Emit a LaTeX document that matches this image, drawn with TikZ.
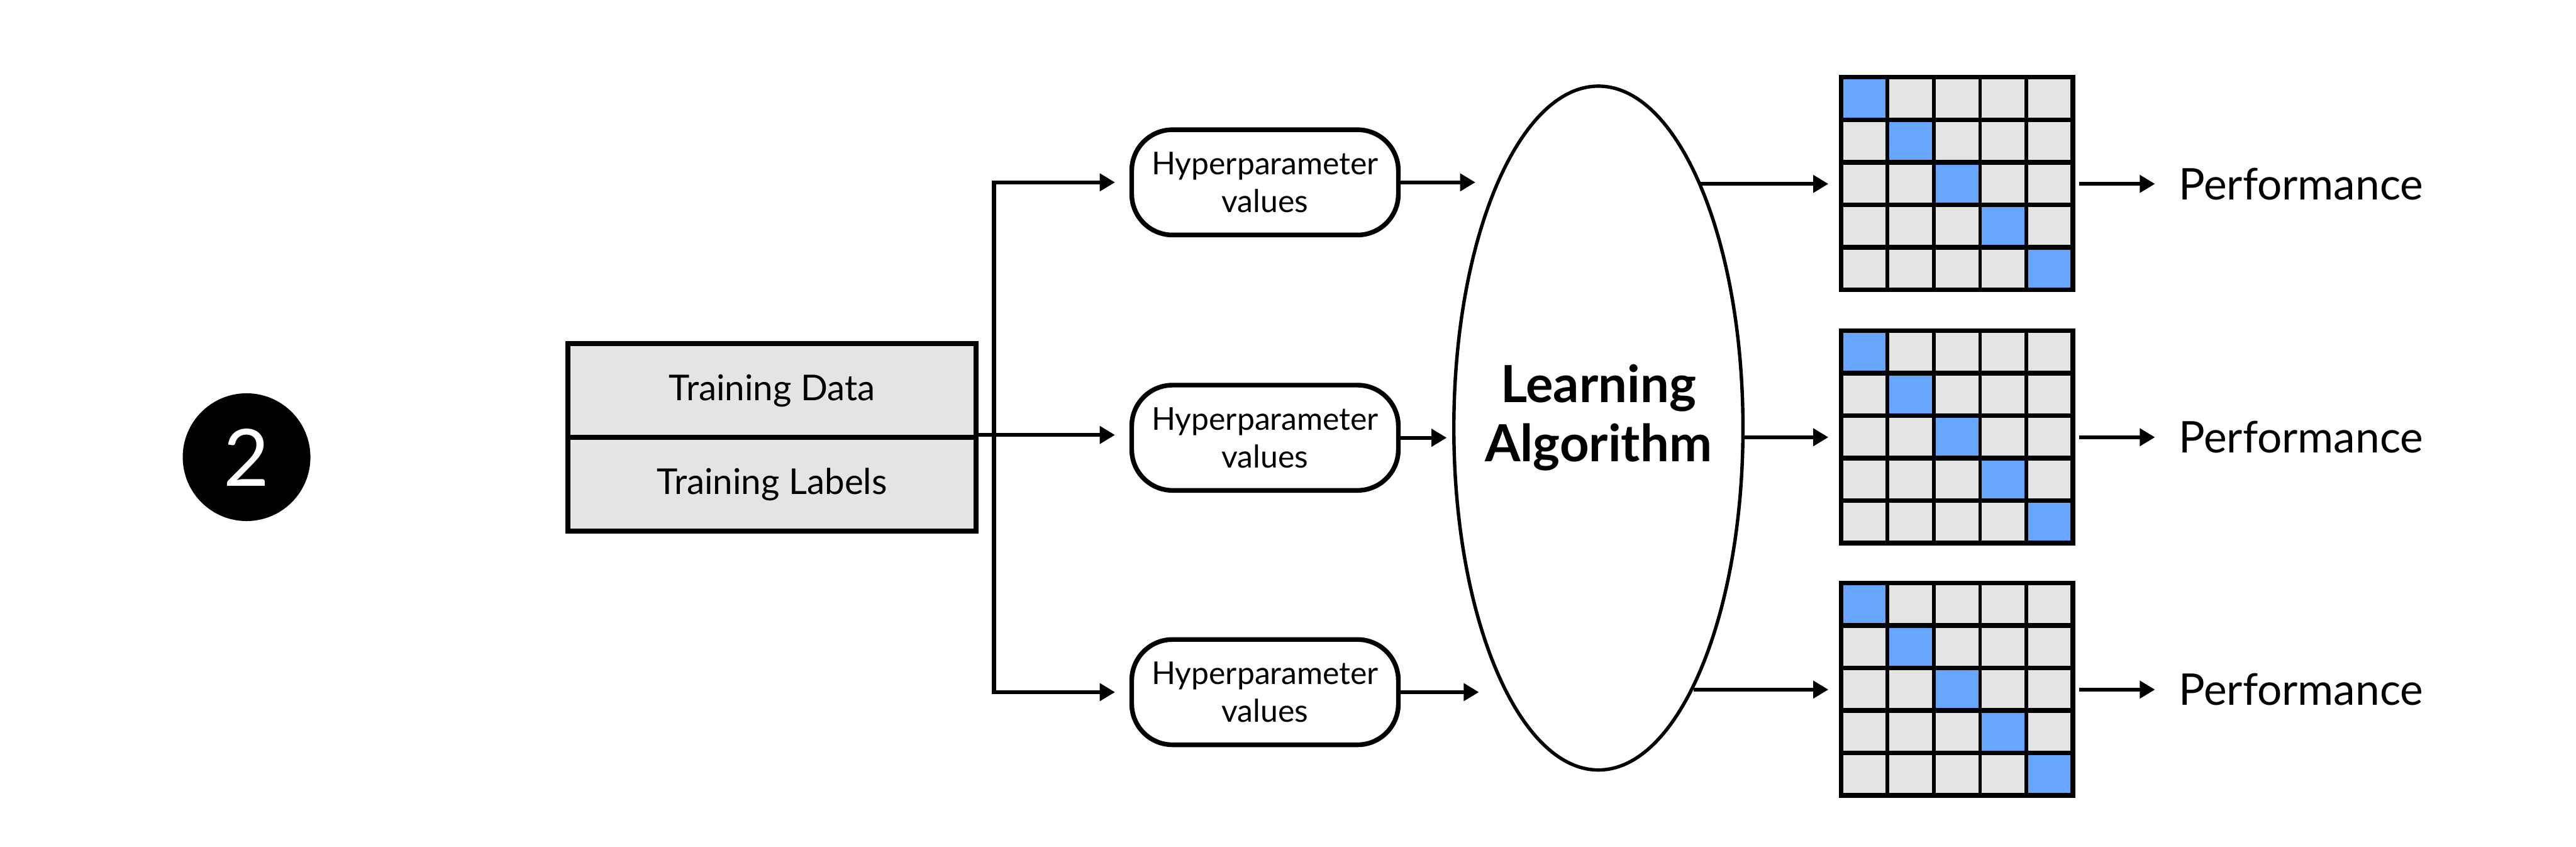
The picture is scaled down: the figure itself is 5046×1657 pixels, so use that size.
\documentclass[tikz,border=0pt]{standalone}
\usepackage{fontspec}
\setmainfont{Lato}
\usetikzlibrary{shapes.geometric,arrows.meta}
\definecolor{cellgray}{HTML}{E4E4E4}
\definecolor{cellblue}{HTML}{66A6FF}
\begin{document}
\begin{tikzpicture}[x=0.01cm,y=-0.01cm,
  arr/.style={line width=2.2pt,-{Triangle[length=8.5pt,width=9.5pt]}},
  ln/.style={line width=2.2pt},
  tbox/.style={draw,line width=2.8pt,fill=cellgray,minimum width=7.99cm,minimum height=1.835cm,font=\fontsize{19.8}{23}\selectfont,inner sep=0pt},
  hbox/.style={draw,line width=2.6pt,rounded corners=0.8cm,minimum width=5.22cm,minimum height=2.06cm,align=center,font=\fontsize{17.5}{21}\selectfont,inner sep=0pt},
  perf/.style={anchor=west,font=\fontsize{24.3}{30}\selectfont,inner sep=0pt},
  gridbox/.style={fill=cellgray,minimum width=4.54cm,minimum height=4.16cm,inner sep=0pt}
]
\useasboundingbox (0,0) rectangle (5046,1657);

% step number
\node[circle,fill=black,minimum size=2.5cm,inner sep=0pt,text=white,font=\fontsize{44}{44}\selectfont] (num) at (483,895) {2};

% training data box
\node[tbox] (td) at (1512.5,764.75) {Training Data};
\node[tbox] (tl) at (1512.5,948.25) {Training Labels};

% hyperparameter boxes
\node[hbox] (h1) at (2478,357) {Hyperparameter\\values};
\node[hbox] (h2) at (2478,857) {Hyperparameter\\values};
\node[hbox] (h3) at (2478,1355) {Hyperparameter\\values};

% learning algorithm
\node[ellipse,draw,line width=1.9pt,minimum width=5.66cm,minimum height=13.38cm,inner sep=0pt] (la) at (3131,838) {};
\node[align=center,inner sep=0pt,font=\bfseries\fontsize{28.5}{33}\selectfont] (lat) at (3131,818) {Learning\\Algorithm};

% split connectors
\coordinate (jt) at (1947,357);
\coordinate (jb) at (1947,1355);
\draw[ln,line cap=rect] (jt) -- (jb);
\draw[arr,shorten >=8pt] (jt) -- (h1.west);
\draw[arr,shorten >=8pt] (tl.north east) -- (h2.west |- tl.north east);
\draw[arr,shorten >=8pt] (jb) -- (h3.west);

% hyper -> algorithm
\coordinate (a1) at (2890,357);
\coordinate (a2) at (2834,857);
\coordinate (a3) at (2897,1355);
\draw[arr] (h1.east) -- (a1);
\draw[arr] (h2.east) -- (a2);
\draw[arr] (h3.east) -- (a3);

% confusion grids
\foreach \g/\yy in {g1/360,g2/856,g3/1350}{
  \node[gridbox] (\g) at (3834,\yy) {};
  \begin{scope}[shift={(\g.north west)}]
    \foreach \i in {0,...,4}{
      \fill[cellblue] (\i*90.8,\i*83.2) rectangle ++(90.8,83.2);
    }
    \foreach \i in {1,...,4}{
      \draw[line width=2pt] (\i*90.8,0) -- (\i*90.8,416);
      \draw[line width=2.6pt] (0,\i*83.2) -- (454,\i*83.2);
    }
    \draw[line width=2.6pt] (0,0) rectangle (454,416);
  \end{scope}
}

% algorithm -> grids
\coordinate (e1) at (3329,360);
\coordinate (e3) at (3318,1350);
\draw[arr,shorten >=7pt] (e1) -- (g1.west);
\draw[arr,shorten >=7pt] (la.east |- g2.west) -- (g2.west);
\draw[arr,shorten >=7pt] (e3) -- (g3.west);

% performance labels
\node[perf] (p1) at (4267,360) {Performance};
\node[perf] (p2) at (4267,856) {Performance};
\node[perf] (p3) at (4267,1350) {Performance};
\draw[arr,shorten <=3pt,shorten >=13pt] (g1.east) -- (p1.west);
\draw[arr,shorten <=3pt,shorten >=13pt] (g2.east) -- (p2.west);
\draw[arr,shorten <=3pt,shorten >=13pt] (g3.east) -- (p3.west);
\end{tikzpicture}
\end{document}
